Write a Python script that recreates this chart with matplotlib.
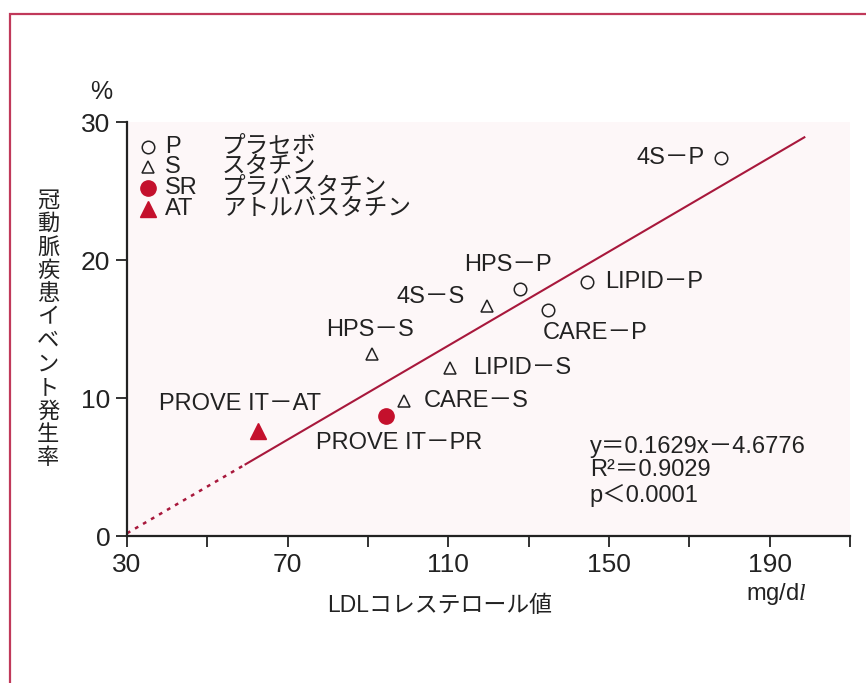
import numpy as np
import matplotlib
matplotlib.use('Agg')
import matplotlib.pyplot as plt
import matplotlib.patches as mpatches

plt.rcParams['font.family'] = ['Liberation Sans', 'Noto Sans CJK JP']
plt.rcParams['mathtext.fontset'] = 'custom'
plt.rcParams['mathtext.rm'] = 'Liberation Sans'
plt.rcParams['mathtext.it'] = 'Liberation Serif:italic'

# data
placebo_names = ['4S－P', 'LIPID－P', 'HPS－P', 'CARE－P']
placebo_ldl = [177.8, 144.6, 127.8, 134.7]
placebo_rate = [27.4, 18.4, 17.9, 16.4]

statin_names = ['4S－S', 'HPS－S', 'LIPID－S', 'CARE－S']
statin_ldl = [119.6, 91.1, 110.4, 99.0]
statin_rate = [16.7, 13.2, 12.2, 9.8]

prava_names = ['PROVE IT－PR']
prava_ldl = [94.4]
prava_rate = [8.7]

atorva_names = ['PROVE IT－AT']
atorva_ldl = [62.7]
atorva_rate = [7.6]

# regression line as drawn (dotted extrapolation, then solid)
line_dot_x = [30, 59.5]
line_dot_y = [0.2, 5.2]
line_x = [59.5, 198.6]
line_y = [5.2, 28.9]

xticks = [30, 50, 70, 90, 110, 130, 150, 170, 190, 210]
xtick_labels = ['30', '', '70', '', '110', '', '150', '', '190', '']
yticks = [0, 10, 20, 30]

legend_keys = ['P', 'S', 'SR', 'AT']
legend_names = ['プラセボ', 'スタチン', 'プラバスタチン', 'アトルバスタチン']

stats_lines = ['y＝0.1629x－4.6776', 'R²＝0.9029', 'p＜0.0001']

RED = '#c4102c'
LINE = '#a8183c'
INK = '#222222'
FS = 17

fig = plt.figure(figsize=(8.66, 6.83), dpi=100)
fig.patch.set_facecolor('white')
ax = fig.add_axes([0.1467, 0.2152, 0.835, 0.606])
ax.set_facecolor('#fdf7f8')

ax.plot(line_dot_x, line_dot_y, color=LINE, lw=1.8, ls=(0, (1.5, 2.2)))
ax.plot(line_x, line_y, color=LINE, lw=1.5)

ax.plot(placebo_ldl, placebo_rate, 'o', ms=9, mfc='none', mec=INK, mew=1.1, ls='none')
ax.plot(statin_ldl, statin_rate, '^', ms=9, mfc='none', mec=INK, mew=1.1, ls='none')
ax.plot(prava_ldl, prava_rate, 'o', ms=11, color=RED, ls='none')
ax.plot(atorva_ldl, atorva_rate, '^', ms=12, color=RED, ls='none')

# label offsets in pixels (dx, dy, ha)
offsets = {
    '4S－P': (-16, 0, 'right'),
    'LIPID－P': (18, 0, 'left'),
    'HPS－P': (-12, 24, 'center'),
    'CARE－P': (-5, -23, 'left'),
    '4S－S': (-22, 9, 'right'),
    'HPS－S': (-2, 24, 'center'),
    'LIPID－S': (23, 0, 'left'),
    'CARE－S': (20, 0, 'left'),
    'PROVE IT－PR': (13, -27, 'center'),
    'PROVE IT－AT': (-18, 27, 'center'),
}
for names, xs, ys in [(placebo_names, placebo_ldl, placebo_rate),
                      (statin_names, statin_ldl, statin_rate),
                      (prava_names, prava_ldl, prava_rate),
                      (atorva_names, atorva_ldl, atorva_rate)]:
    for n, x, y in zip(names, xs, ys):
        dx, dy, ha = offsets[n]
        ax.annotate(n, (x, y), xytext=(dx, dy), textcoords='offset pixels',
                    ha=ha, va='center', fontsize=FS, color=INK)

# legend drawn by hand
leg_y = [0.940, 0.891, 0.841, 0.790]
leg_style = [dict(marker='o', ms=9, mfc='none', mec=INK, mew=1.1),
             dict(marker='^', ms=9, mfc='none', mec=INK, mew=1.1),
             dict(marker='o', ms=11, color=RED),
             dict(marker='^', ms=12, color=RED)]
for y, k, nm, st in zip(leg_y, legend_keys, legend_names, leg_style):
    ax.plot([0.029], [y], transform=ax.transAxes, ls='none', clip_on=False, **st)
    ax.text(0.052, y, k, transform=ax.transAxes, fontsize=FS, va='center', color=INK)
    ax.text(0.131, y, nm, transform=ax.transAxes, fontsize=FS, va='center', color=INK)

for y, s in zip([0.215, 0.159, 0.097], stats_lines):
    ax.text(0.640, y, s, transform=ax.transAxes, fontsize=FS, va='center', ha='left', color=INK)

ax.set_xlim(30, 210)
ax.set_ylim(0, 30)
ax.set_xticks(xticks)
ax.set_xticklabels(xtick_labels)
ax.set_yticks(yticks)
ax.tick_params(axis='both', direction='out', length=8, width=1.3, labelsize=19,
               colors=INK, pad=4)
for s in ['top', 'right']:
    ax.spines[s].set_visible(False)
for s in ['left', 'bottom']:
    ax.spines[s].set_linewidth(1.6)
    ax.spines[s].set_color(INK)

fig.text(0.1166, 0.865, '%', fontsize=18, ha='center', va='center', color=INK)
fig.text(0.0554, 0.517, '\n'.join('冠動脈疾患イベント発生率'), fontsize=16,
         ha='center', va='center', linespacing=1.15, color=INK)
fig.text(0.508, 0.113, 'LDLコレステロール値', fontsize=16.5, ha='center', va='center', color=INK)
fig.text(0.896, 0.131, 'mg/d$\\mathit{l}$', fontsize=17, ha='center', va='center', color=INK)

fig.patches.append(mpatches.Rectangle((0.0115, -0.05), 1.1, 1.0295, transform=fig.transFigure,
                                      fill=False, edgecolor='#c0395a', lw=1.6))

fig.savefig('out.png', dpi=100)
